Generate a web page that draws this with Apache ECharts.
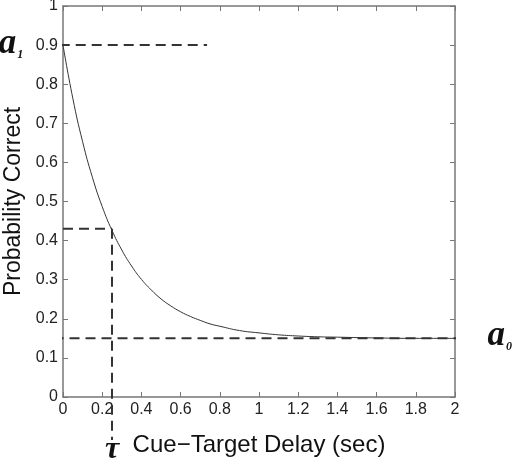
<!DOCTYPE html>
<html><head><meta charset="utf-8">
<script src="https://cdn.jsdelivr.net/npm/echarts@6/dist/echarts.min.js"></script>
<style>html,body{margin:0;padding:0;background:#fff}#c{width:512px;height:461px}</style>
</head><body><div id="c"></div>
<script>
// Curve
const delays = [0,0.05,0.1,0.15,0.2,0.25,0.3,0.35,0.4,0.45,0.5,0.55,0.6,0.65,0.7,0.75,0.8,0.9,1.0,1.1,1.2,1.3,1.4,1.6,1.8,2.0];
const probCorrect = [0.9,0.764,0.653,0.562,0.487,0.426,0.376,0.335,0.301,0.274,0.251,0.233,0.218,0.206,0.196,0.187,0.181,0.170,0.164,0.159,0.156,0.154,0.153,0.151,0.150,0.150];
// Reference (dashed) lines
const a1Line = [[-0.18,0.9],[0.735,0.9]];
const a0Line = [[-0.13,0.15],[2.14,0.15]];
const tauH = [[0,0.43],[0.25,0.43]];
const tauV = [[0.25,0.43],[0.25,-0.11]];
const xTicks = {min:0,max:2,interval:0.2};
const yTicks = {min:0,max:1,interval:0.1};

const chart = echarts.init(document.getElementById('c'));
const axisCol = '#777';
const sans = 'Liberation Sans, Arial, sans-serif';
const labelStyle = {color:'#222',fontSize:16,fontFamily:sans};
const dashStyle = {color:'#333',width:2,type:[10,6]};
function fmt(v){return String(Math.round(v*10)/10);}
const lineCfg = {onZero:false,lineStyle:{color:axisCol,width:1.5}};
const tickCfg = {show:true,inside:true,length:5,lineStyle:{color:axisCol}};
chart.setOption({
  animation:false,
  grid:{left:63,right:57,top:6,bottom:64,containLabel:false,outerBoundsMode:'none'},
  xAxis:[{type:'value',min:xTicks.min,max:xTicks.max,interval:xTicks.interval,
    name:'Cue\u2212Target Delay (sec)',nameLocation:'middle',nameGap:36,
    nameTextStyle:{color:'#111',fontSize:24,fontFamily:sans},
    axisLine:lineCfg,axisTick:tickCfg,
    axisLabel:Object.assign({margin:5,formatter:fmt},labelStyle),splitLine:{show:false}},
   {type:'value',position:'top',min:xTicks.min,max:xTicks.max,interval:xTicks.interval,
    axisLine:lineCfg,axisTick:tickCfg,axisLabel:{show:false},splitLine:{show:false}}],
  yAxis:[{type:'value',min:yTicks.min,max:yTicks.max,interval:yTicks.interval,
    name:'Probability Correct',nameLocation:'middle',nameGap:30,
    nameTextStyle:{color:'#111',fontSize:23,fontFamily:sans},
    axisLine:Object.assign({show:true},lineCfg),axisTick:tickCfg,
    axisLabel:Object.assign({margin:5,formatter:fmt},labelStyle),splitLine:{show:false}},
   {type:'value',position:'right',min:yTicks.min,max:yTicks.max,interval:yTicks.interval,
    axisLine:Object.assign({show:true},lineCfg),axisTick:tickCfg,axisLabel:{show:false},splitLine:{show:false}}],
  series:[
    {type:'line',data:delays.map((d,i)=>[d,probCorrect[i]]),smooth:true,symbol:'none',
      lineStyle:{color:'#333',width:1}},
    {type:'line',data:a1Line,symbol:'none',clip:false,lineStyle:dashStyle},
    {type:'line',data:a0Line,symbol:'none',clip:false,lineStyle:dashStyle},
    {type:'line',data:tauH,symbol:'none',clip:false,lineStyle:dashStyle},
    {type:'line',data:tauV,symbol:'none',clip:false,lineStyle:dashStyle}
  ]
});
const serif = 'Liberation Serif, DejaVu Serif, serif';
const pA1 = chart.convertToPixel({gridIndex:0},[a1Line[0][0],0.9]);
const pA0 = chart.convertToPixel({gridIndex:0},[a0Line[1][0],0.15]);
const pTau = chart.convertToPixel({gridIndex:0},[0.25,tauV[1][1]]);
const rich = {
  a:{fontFamily:serif,fontStyle:'italic',fontWeight:'bold',fontSize:35,fill:'#111'},
  s:{fontFamily:serif,fontStyle:'italic',fontWeight:'bold',fontSize:12,fill:'#111',verticalAlign:'bottom',padding:[20,0,0,1]}};
chart.setOption({graphic:[
  {type:'text',x:pA1[0]-29,y:pA1[1]-19,style:{text:'{a|a}{s|1}',rich:rich}},
  {type:'text',x:pA0[0]+5,y:pA0[1]-20,style:{text:'{a|a}{s|0}',rich:rich}},
  {type:'text',x:pTau[0],y:pTau[1]-6,style:{text:'\u03c4',align:'center',fontFamily:serif,fontStyle:'italic',fontWeight:'bold',fontSize:32,fill:'#111'}}
]});
</script></body></html>
